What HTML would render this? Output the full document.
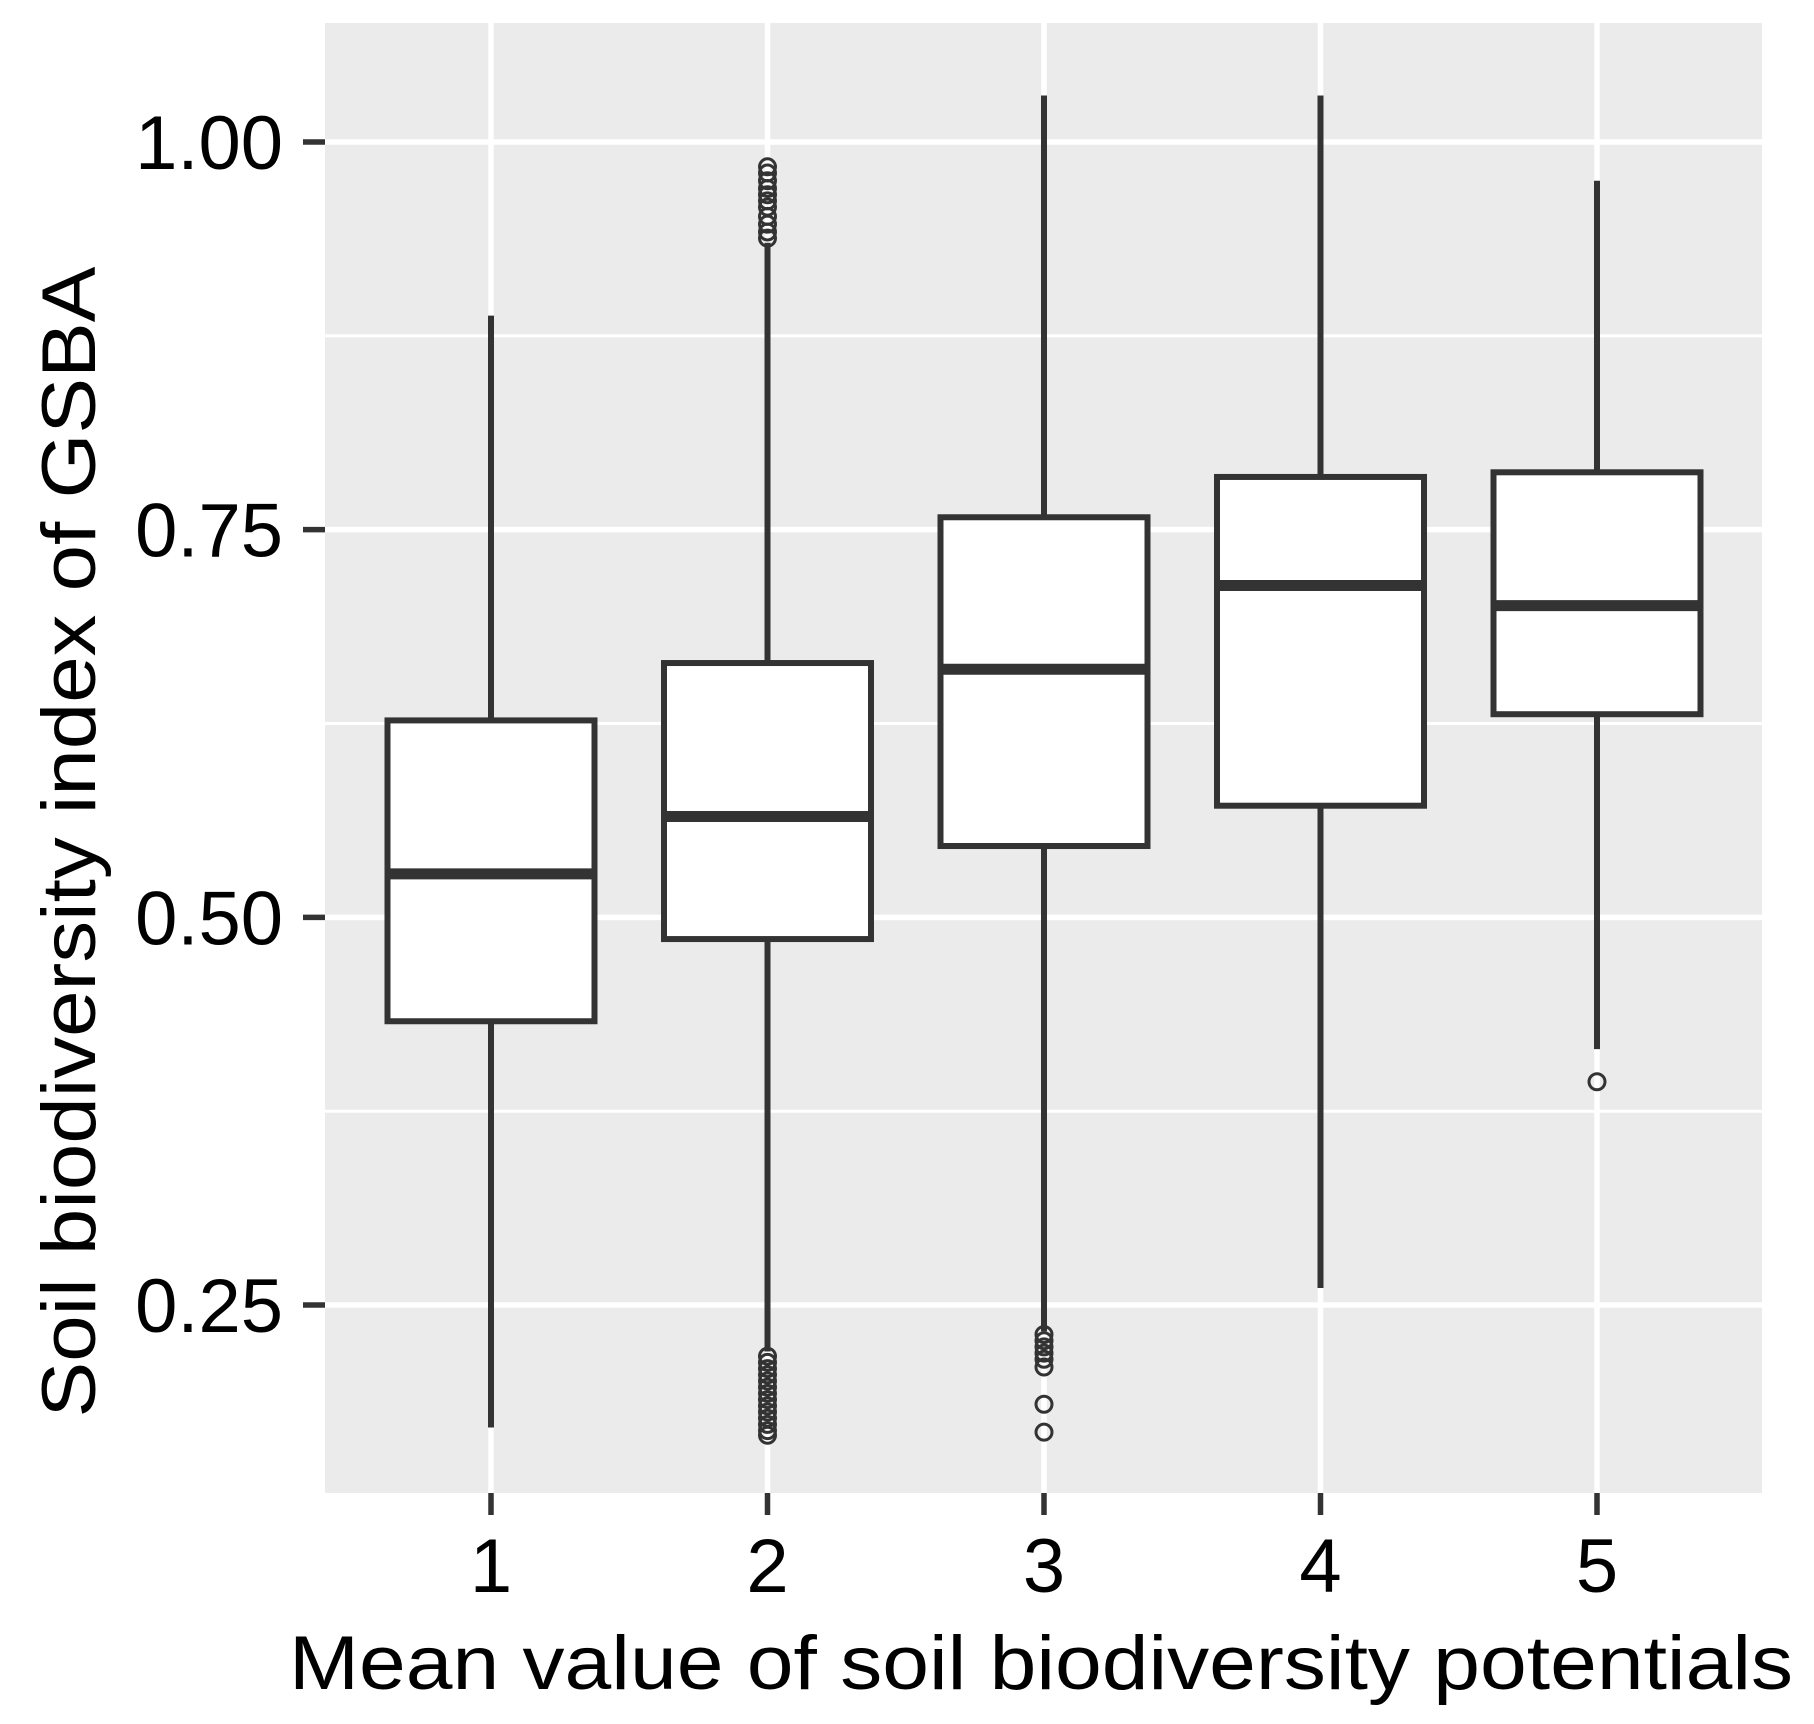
<!DOCTYPE html>
<html><head><meta charset="utf-8"><style>
html,body{margin:0;padding:0;background:#fff;}
svg{display:block;font-family:"Liberation Sans",Arial,sans-serif;}
</style></head><body>
<svg id="chart" width="1814" height="1724" viewBox="0 0 1814 1724">
<rect x="325" y="23" width="1437" height="1470" fill="#ebebeb"/>
<g id="grid"></g>
<g id="boxes"></g>
<g id="axes"></g>
<text x="1041" y="1689" font-size="76" text-anchor="middle" textLength="1504" lengthAdjust="spacingAndGlyphs" fill="#000">Mean value of soil biodiversity potentials</text>
<text transform="translate(95,842) rotate(-90)" font-size="76" text-anchor="middle" textLength="1151" lengthAdjust="spacingAndGlyphs" fill="#000">Soil biodiversity index of GSBA</text>
</svg>
<script>
const categories = ["1","2","3","4","5"];
const lowerWhisker = [0.171,0.220,0.233,0.261,0.415];
const q1 = [0.433,0.486,0.546,0.572,0.631];
const medians = [0.528,0.565,0.660,0.714,0.701];
const q3 = [0.627,0.664,0.758,0.784,0.787];
const upperWhisker = [0.888,0.935,1.030,1.030,0.975];
const outliersHigh = [[],[0.984,0.980,0.975,0.970,0.966,0.962,0.958,0.952,0.947,0.942,0.938],[],[],[]];
const outliersLow = [[],[0.217,0.213,0.209,0.205,0.201,0.197,0.193,0.189,0.185,0.181,0.177,0.173,0.169,0.166],[0.231,0.227,0.223,0.219,0.215,0.210,0.186,0.168],[],[0.394]];
const yTicks = [0.25,0.50,0.75,1.00];
const yTickLabels = ["0.25","0.50","0.75","1.00"];
const yMinor = [0.375,0.625,0.875];

const NS="http://www.w3.org/2000/svg";
const xPos = i => 491 + i*276.5;
const yPos = v => 142 + (1 - v)*1550.7;
function mk(tag, attrs, parent){const e=document.createElementNS(NS,tag);for(const k in attrs)e.setAttribute(k,attrs[k]);parent.appendChild(e);return e;}
const grid=document.getElementById('grid'), boxes=document.getElementById('boxes'), axes=document.getElementById('axes');
yMinor.forEach(v=>{const l=mk('line',{x1:325,x2:1762,y1:yPos(v),y2:yPos(v),stroke:'#fff','stroke-width':3},grid);

});
yTicks.forEach((v,i)=>{const l=mk('line',{x1:325,x2:1762,y1:yPos(v),y2:yPos(v),stroke:'#fff','stroke-width':5.5},grid);


const t=mk('line',{x1:303,x2:325,y1:yPos(v),y2:yPos(v),stroke:'#333','stroke-width':5.5},axes);


const tx=mk('text',{x:283,y:yPos(v)+27,'font-size':76,'text-anchor':'end',fill:'#000'},axes);tx.textContent=yTickLabels[i];

});
categories.forEach((c,i)=>{const x=xPos(i);
const g=mk('line',{x1:x,x2:x,y1:23,y2:1493,stroke:'#fff','stroke-width':5.5},grid);


const t=mk('line',{x1:x,x2:x,y1:1493,y2:1515,stroke:'#333','stroke-width':5.5},axes);


const tx=mk('text',{x:x,y:1592,'font-size':76,'text-anchor':'middle',fill:'#000'},axes);tx.textContent=c;


const grp=mk('g',{},boxes);


const w1=mk('line',{x1:x,x2:x,y1:yPos(upperWhisker[i]),y2:yPos(q3[i]),stroke:'#333','stroke-width':6},grp);


const w2=mk('line',{x1:x,x2:x,y1:yPos(q1[i]),y2:yPos(lowerWhisker[i]),stroke:'#333','stroke-width':6},grp);


const bw=207;
const r=mk('rect',{x:x-bw/2,y:yPos(q3[i]),width:bw,height:yPos(q1[i])-yPos(q3[i]),fill:'#fff',stroke:'#333','stroke-width':6},grp);


const m=mk('line',{x1:x-bw/2,x2:x+bw/2,y1:yPos(medians[i]),y2:yPos(medians[i]),stroke:'#333','stroke-width':11},grp);


outliersHigh[i].concat(outliersLow[i]).forEach(v=>{const o=mk('circle',{cx:x,cy:yPos(v),r:8,fill:'none',stroke:'#333','stroke-width':3},grp);

});
});
</script>
</body></html>
